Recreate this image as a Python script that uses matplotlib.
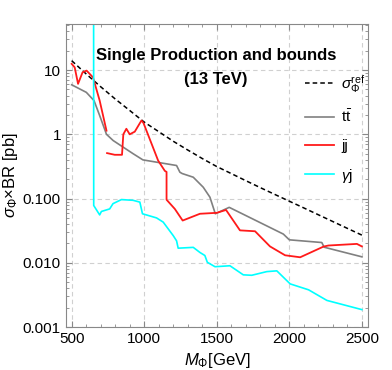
import matplotlib
matplotlib.use("Agg")
import matplotlib.pyplot as plt
from matplotlib.ticker import FixedLocator, NullFormatter, LogLocator

# sigma_ref (black dashed)
m_ref = [500, 600, 700, 800, 900, 1000, 1100, 1200, 1300, 1400, 1500,
         1600, 1700, 1800, 1900, 2000, 2100, 2200, 2300, 2400, 2500]
s_ref = [14.0, 8.7, 5.5, 3.55, 2.35, 1.55, 1.1, 0.78, 0.57, 0.42, 0.315,
         0.245, 0.19, 0.148, 0.116, 0.091, 0.0715, 0.056, 0.0439, 0.0344, 0.027]

# t tbar (grey)
m_tt = [500, 601, 654, 693, 740, 786, 923, 991, 1223, 1246, 1262, 1338, 1407,
        1453, 1490, 1586, 1959, 2000, 2224, 2240, 2500]
s_tt = [5.9, 4.5, 3.35, 1.96, 1.0, 0.8, 0.5, 0.4, 0.327, 0.257, 0.245, 0.215,
        0.15, 0.105, 0.058, 0.073, 0.028, 0.0228, 0.0207, 0.0175, 0.0124]

# jj (red), two pieces
m_jj1 = [500, 521, 544, 575, 603, 647, 693, 740]
s_jj1 = [12.5, 11.0, 6.1, 9.2, 9.8, 7.7, 3.35, 1.14]
m_jj2 = [744, 797, 847, 856, 877, 900, 935, 981, 995, 1096, 1142, 1154, 1154,
         1211, 1265, 1384, 1500, 1564, 1660, 1764, 1867, 1971, 2075, 2236,
         2270, 2466, 2500]
s_jj2 = [0.51, 0.48, 0.48, 1.0, 1.22, 1.0, 1.1, 1.64, 1.5, 0.39, 0.27, 0.26,
         0.096, 0.069, 0.0455, 0.058, 0.06, 0.0665, 0.032, 0.031, 0.018,
         0.0131, 0.0122, 0.0179, 0.0186, 0.0197, 0.018]

# gamma j (cyan)
m_gj = [651, 652, 693, 705, 762, 785, 843, 923, 970, 988, 1085, 1131, 1200,
        1223, 1234, 1338, 1384, 1418, 1435, 1488, 1591, 1683, 1741, 1845,
        1914, 2006, 2133, 2259, 2500]
s_gj = [1000, 0.078, 0.0557, 0.063, 0.069, 0.0834, 0.0964, 0.094, 0.088,
        0.058, 0.05, 0.043, 0.0265, 0.022, 0.0169, 0.0174, 0.0145, 0.013,
        0.0102, 0.0087, 0.009, 0.0065, 0.0064, 0.0073, 0.0075, 0.0047,
        0.0038, 0.0026, 0.00187]

plt.rcParams['font.family'] = ['Liberation Sans', 'DejaVu Sans']
plt.rcParams['mathtext.fontset'] = 'custom'
plt.rcParams['mathtext.rm'] = 'Liberation Sans'
plt.rcParams['mathtext.it'] = 'Liberation Sans:italic'

fig = plt.figure(figsize=(3.92, 3.70), dpi=100)
ax = fig.add_axes([0.168, 0.116, 0.771, 0.819])

ax.plot(m_ref, s_ref, color='black', lw=1.1, ls=(0, (3, 2)), label=r'$\sigma_\Phi^{\rm ref}$')
ax.plot(m_tt, s_tt, color='#808080', lw=1.2, label=r'$\mathrm{t\bar{t}}$')
ax.plot(m_jj1, s_jj1, color='#ff1a1a', lw=1.3, label='jj')
ax.plot(m_jj2, s_jj2, color='#ff1a1a', lw=1.3)
ax.plot(m_gj, s_gj, color='#00ffff', lw=1.2, label=r'$\gamma$j')

ax.set_yscale('log')
ax.set_xlim(460, 2543)
ax.set_ylim(0.001, 52)

ax.set_xticks([500, 1000, 1500, 2000, 2500])
ax.xaxis.set_minor_locator(FixedLocator(range(500, 2600, 100)))
ax.set_yticks([0.001, 0.01, 0.1, 1, 10])
ax.set_yticklabels(['0.001', '0.010', '0.100', '1', '10'])
ax.yaxis.set_minor_locator(LogLocator(base=10, subs=range(2, 10)))
ax.yaxis.set_minor_formatter(NullFormatter())

ax.tick_params(which='both', direction='in', top=True, right=True,
               labelsize=11, color='#888888')
ax.tick_params(which='major', length=4)
ax.tick_params(which='minor', length=2)
for sp in ax.spines.values():
    sp.set_color('#888888')

ax.grid(True, which='major', color='#d0d0d0', ls=(0, (4, 3)), lw=0.8)

ax.set_xlabel(r'$M_\Phi$[GeV]', fontsize=12)
ax.set_ylabel(r'$\sigma_\Phi$×BR [pb]', fontsize=12, labelpad=2)

ax.text(0.497, 0.922, 'Single Production and bounds\n(13 TeV)', transform=ax.transAxes,
        ha='center', va='top', fontsize=12, fontweight='bold', linespacing=1.75)

ax.legend(loc='upper left', bbox_to_anchor=(0.745, 0.885), frameon=False,
          fontsize=11, handlelength=1.9, labelspacing=0.9, handletextpad=0.5)

fig.savefig('out.png', dpi=100)
